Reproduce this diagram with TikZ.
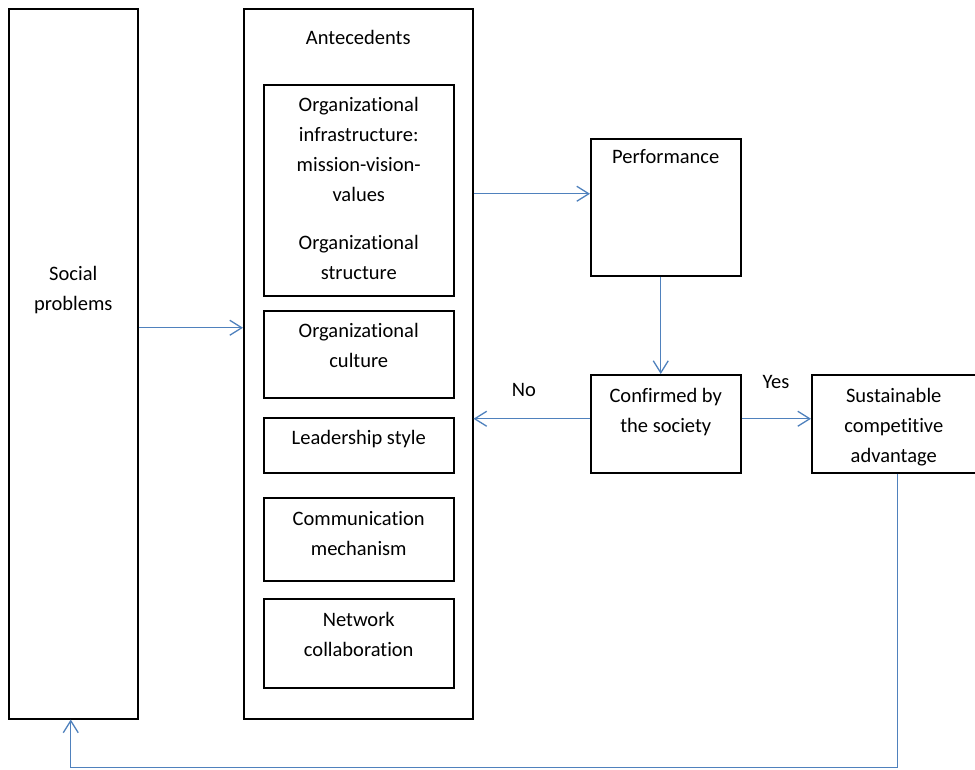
\documentclass[tikz,border=0pt]{standalone}
\usepackage{fontspec}
\setmainfont{Carlito}[Ligatures={NoCommon,NoContextual}]
\usetikzlibrary{arrows.meta, positioning}
\definecolor{clrArr}{RGB}{79,129,189}
\tikzset{
  box/.style={rectangle, draw=black, line width=1.5pt, inner sep=0pt, anchor=north west},
  txt/.style={font=\fontsize{20.5}{29.7}\selectfont, align=center, inner sep=0pt, anchor=north},
  arr/.style={-{Straight Barb[length=12pt,width=15pt]}, draw=clrArr, line width=1.3pt},
  lbl/.style={font=\fontsize{20.5}{24}\selectfont, inner sep=0pt},
}
\begin{document}
\begin{tikzpicture}[x=1pt,y=-1pt]
\useasboundingbox (0,0) rectangle (975,769);
% left column
\node[box, minimum width=129pt, minimum height=710pt] (soc) at (8,8) {};
\node[txt, below=258.5pt of soc.north] (soctxt) {Social\\problems};
% antecedents frame and its blocks
\node[box, minimum width=229pt, minimum height=710pt] (ante) at (243,8) {};
\node[txt, below=22.5pt of ante.north] (antetxt) {Antecedents};
\node[box, minimum width=190pt, minimum height=211pt] (infra) at (263,84) {};
\node[txt, below=13.5pt of infra.north] (infratxt)
 {Organizational\\infrastructure:\\mission-vision-\\values\\[19pt]Organizational\\structure};
\node[box, minimum width=190pt, minimum height=87pt] (cult) at (263,310) {};
\node[txt, below=13.5pt of cult.north] (culttxt) {Organizational\\culture};
\node[box, minimum width=190pt, minimum height=55pt] (lead) at (263,417) {};
\node[txt, below=13.5pt of lead.north] (leadtxt) {Leadership style};
\node[box, minimum width=190pt, minimum height=83pt] (comm) at (263,497) {};
\node[txt, below=14.5pt of comm.north] (commtxt) {Communication\\mechanism};
\node[box, minimum width=190pt, minimum height=89pt] (netw) at (263,598) {};
\node[txt, below=14.5pt of netw.north] (netwtxt) {Network\\collaboration};
% right part
\node[box, minimum width=150pt, minimum height=137pt] (perf) at (590,138) {};
\node[txt, below=11.5pt of perf.north] (perftxt) {Performance};
\node[box, minimum width=150pt, minimum height=98pt] (conf) at (590,374) {};
\node[txt, below=14.5pt of conf.north] (conftxt) {Confirmed by\\the society};
\node[box, minimum width=164pt, minimum height=98pt] (sust) at (811,374) {};
\node[txt, below=14.5pt of sust.north] (susttxt) {Sustainable\\competitive\\advantage};
% connectors
\coordinate (perfin) at ([yshift=13.5pt]perf.west);
\coordinate (confout) at ([yshift=5pt]conf.west);
\draw[arr] ([yshift=36pt]soc.east) -- ([yshift=36pt]ante.west);
\draw[arr] (perfin -| ante.east) -- (perfin);
\draw[arr] ([xshift=-5pt]perf.south) -- ([xshift=-5pt]conf.north);
\draw[arr] (confout) -- (confout -| ante.east);
\draw[arr] ([yshift=5pt]conf.east) -- ([yshift=5pt]sust.west);
\draw[arr] ([xshift=4pt]sust.south) -- ++(0,294) -| ([xshift=-2.5pt]soc.south);
\node[lbl] (nolbl) at (524,390) {No};
\node[lbl] (yeslbl) at (776,382) {Yes};
\end{tikzpicture}
\end{document}
